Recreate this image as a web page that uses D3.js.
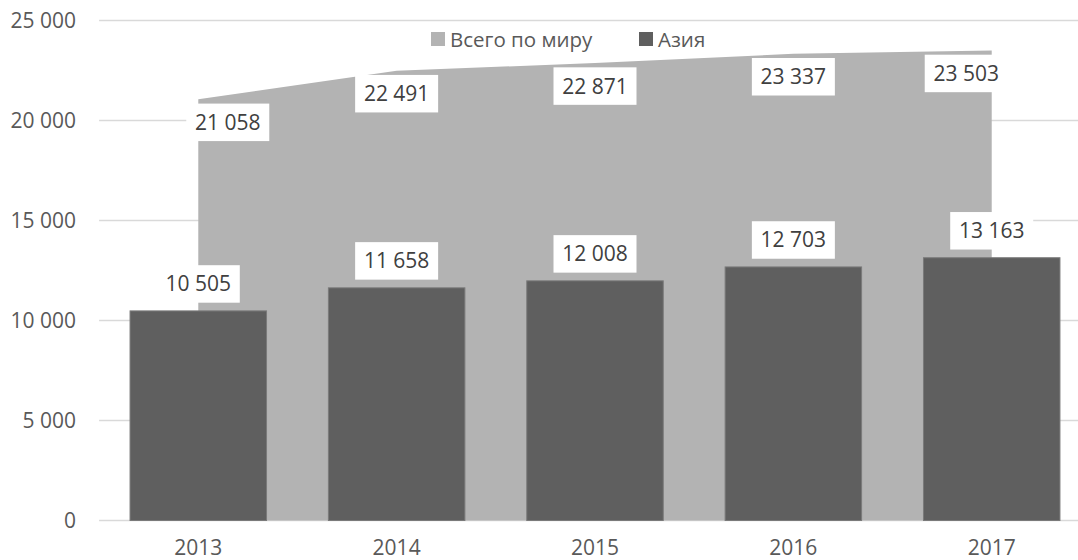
<!DOCTYPE html>
<html><head><meta charset="utf-8">
<script src="https://cdn.jsdelivr.net/npm/d3@7"></script>
<style>
html,body{margin:0;padding:0;background:#fff;}
svg{display:block;font-family:"Open Sans",sans-serif;}
</style></head>
<body><svg id="c" width="1078" height="560"></svg>
<script>
const categories = ["2013","2014","2015","2016","2017"];
const worldValues = [21058, 22491, 22871, 23337, 23503];
const asiaValues = [10505, 11658, 12008, 12703, 13163];
const yTicks = [0, 5000, 10000, 15000, 20000, 25000];
const seriesNames = ["Всего по миру", "Азия"];
const colors = {world:"#b3b3b3", asia:"#5f5f5f"};

const svg = d3.select("#c");
const x0 = 99.1, x1 = 1090.9;
const x = d3.scaleBand().domain(categories).range([x0, x1]).paddingInner(0.307).paddingOuter(0.1535);
const cx = c => x(c) + x.bandwidth()/2;
const y = d3.scaleLinear().domain([0, 25000]).range([520.5, 20.5]);
const fmt = v => d3.format(",")(v).replace(/,/g, "\u00a0");
const FS = 21;

// gridlines
svg.append("g").selectAll("line").data(yTicks).join("line")
  .attr("x1", x0).attr("x2", x1)
  .attr("y1", d => y(d)).attr("y2", d => y(d))
  .attr("stroke", "#d9d9d9").attr("stroke-width", 1.3);

// y labels
svg.append("g").selectAll("text").data(yTicks).join("text")
  .attr("x", 76).attr("y", d => y(d) + 7.5)
  .attr("text-anchor", "end").attr("font-size", FS).attr("fill", "#595959")
  .text(d => fmt(d));

// area
const area = d3.area().x((d,i) => cx(categories[i])).y0(y(0)).y1(d => y(d));
svg.append("path").datum(worldValues).attr("d", area).attr("fill", colors.world);

// bars
svg.append("g").selectAll("rect").data(asiaValues).join("rect")
  .attr("x", (d,i) => x(categories[i]) + 0.5)
  .attr("width", x.bandwidth() - 1)
  .attr("y", d => y(d) + 0.5)
  .attr("height", d => y(0) - y(d) - 0.5)
  .attr("fill", colors.asia).attr("stroke", "#7a7a7a").attr("stroke-width", 1);

// x axis labels
svg.append("g").selectAll("text").data(categories).join("text")
  .attr("x", d => cx(d)).attr("y", 555)
  .attr("text-anchor", "middle").attr("font-size", FS).attr("fill", "#595959")
  .text(d => d);

// data labels
const bw = 83, bh = 37.5;
function label(g, v, xc, yc) {
  g.append("rect").attr("x", xc - bw/2).attr("y", yc - bh/2).attr("width", bw).attr("height", bh).attr("fill", "#fff");
  g.append("text").attr("x", xc).attr("y", yc + 7.5).attr("text-anchor", "middle")
    .attr("font-size", FS).attr("fill", "#404040").text(fmt(v));
}
const lg = svg.append("g");
worldValues.forEach((v,i) => {
  let xc = cx(categories[i]);
  const xa = cx(categories[0]), xb = cx(categories[categories.length-1]);
  xc = Math.max(xa - 12 + bw/2, Math.min(xb + 16 - bw/2, xc));
  label(lg, v, xc, y(v) + 23);
});
asiaValues.forEach((v,i) => {
  label(lg, v, cx(categories[i]), y(v) - 7.7 - bh/2);
});

// legend
const leg = svg.append("g");
const items = [{n:seriesNames[0], c:colors.world, x:431}, {n:seriesNames[1], c:colors.asia, x:639}];
items.forEach(it => {
  leg.append("rect").attr("x", it.x).attr("y", 32).attr("width", 14).attr("height", 14).attr("fill", it.c);
  leg.append("text").attr("x", it.x + 19).attr("y", 46.5).attr("font-size", 20.5).attr("fill", "#595959").text(it.n);
});
</script></body></html>
